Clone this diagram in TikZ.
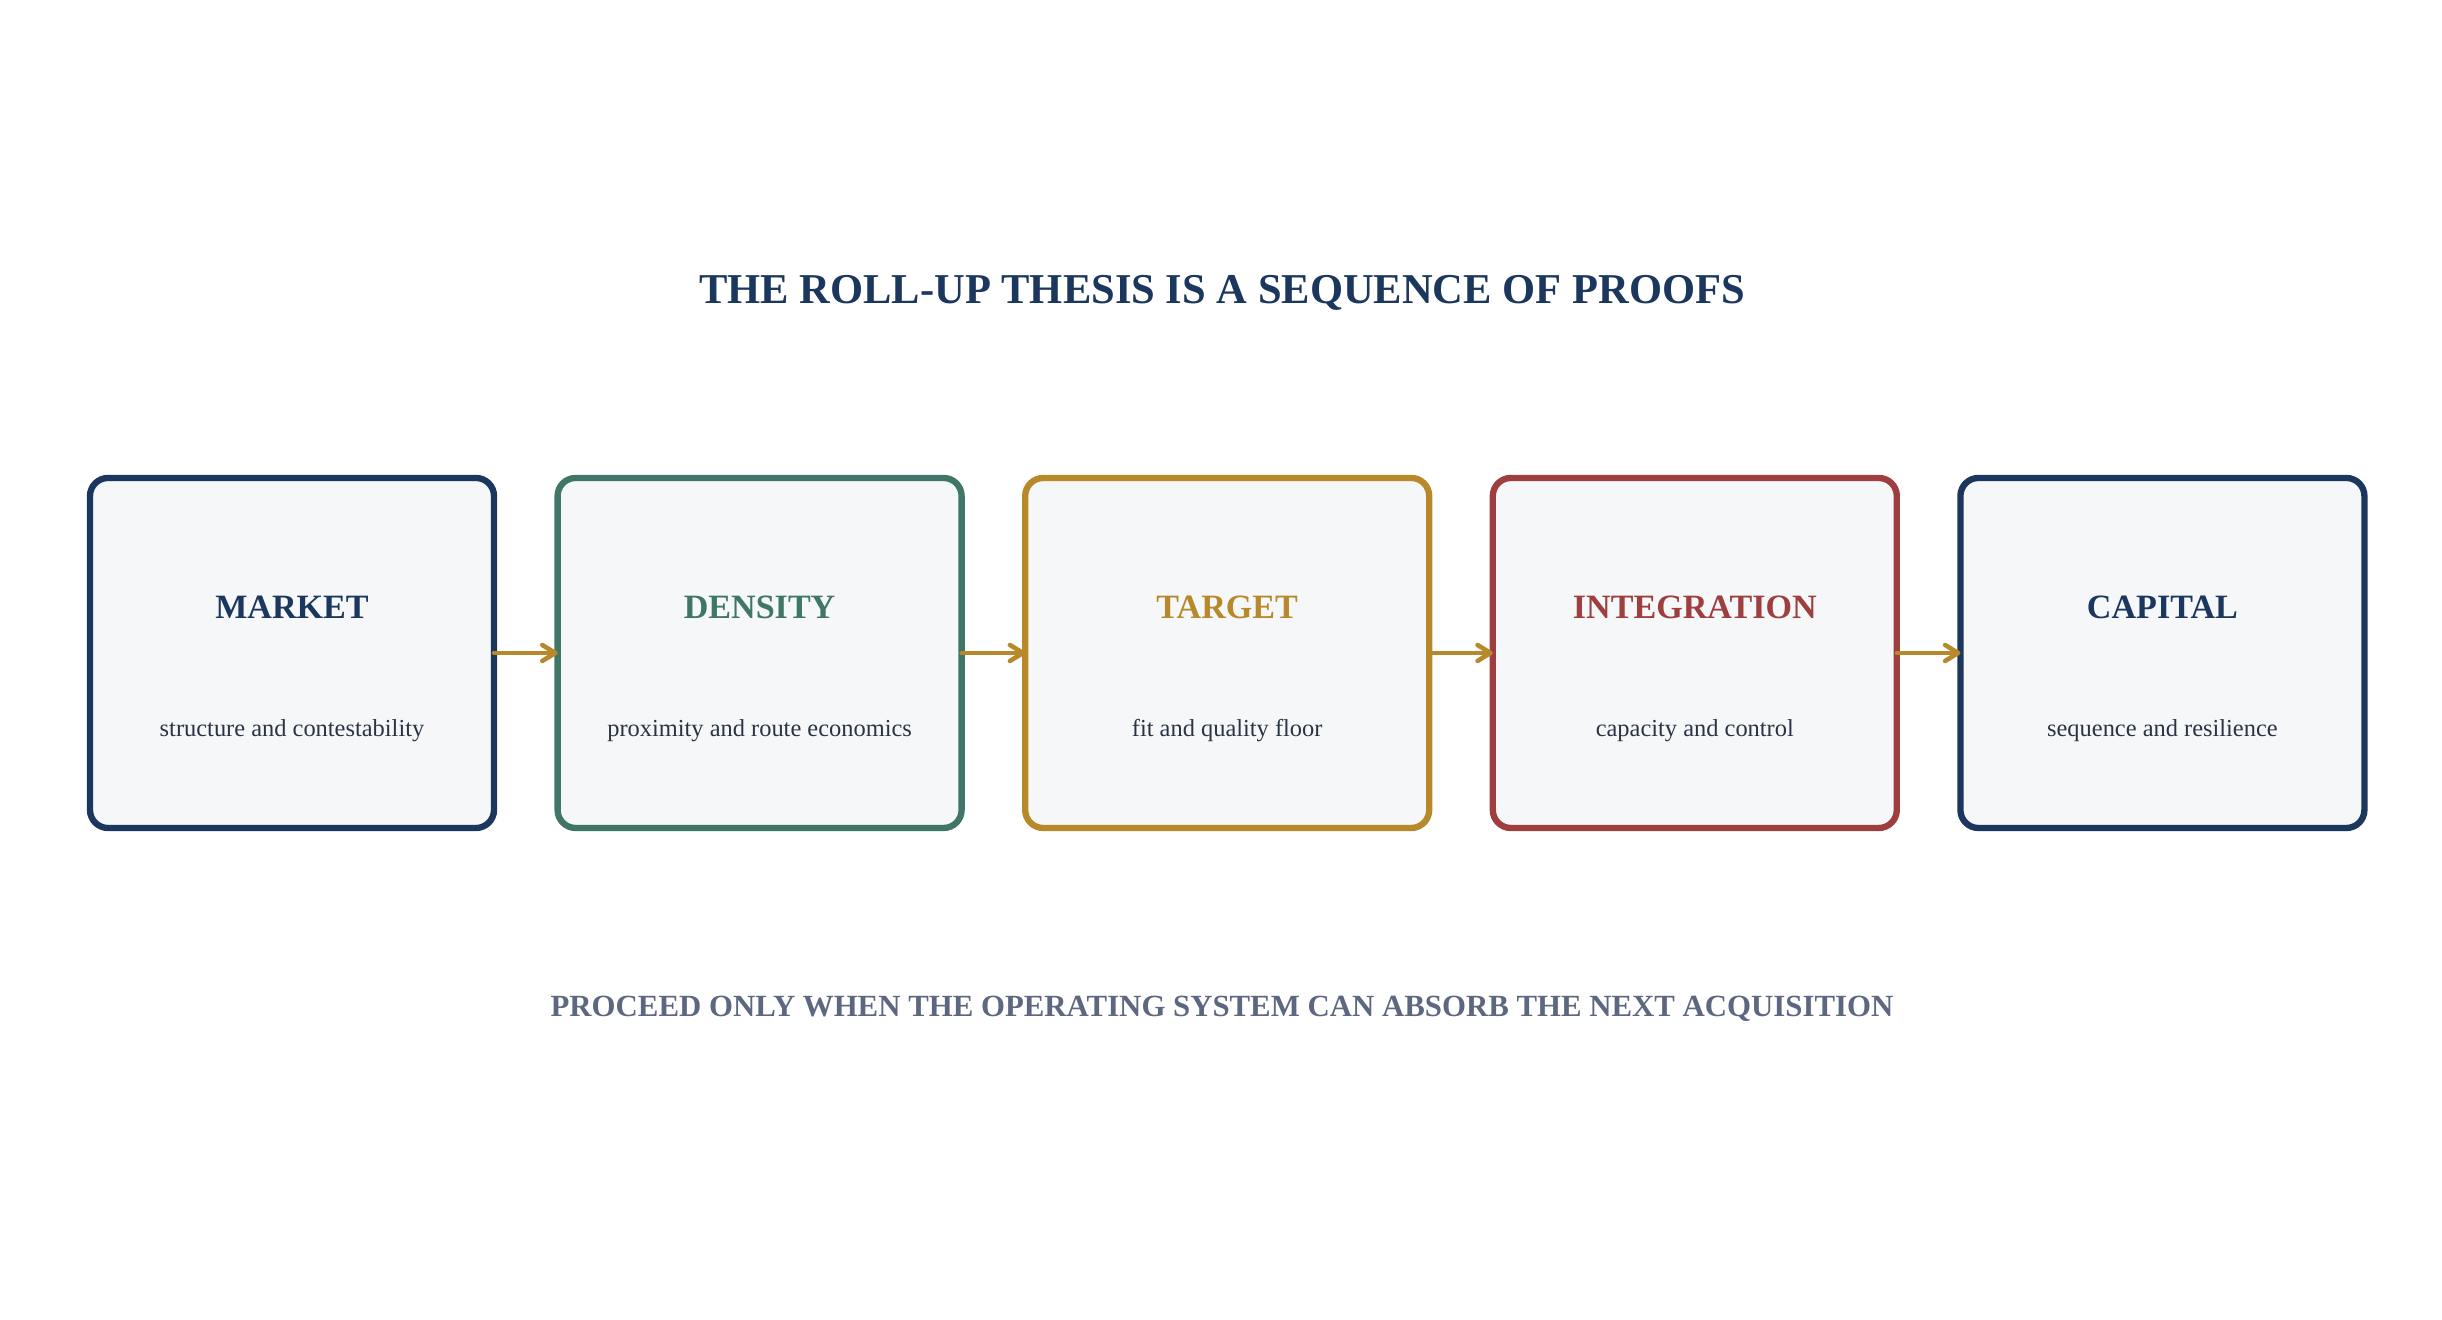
\documentclass[tikz,border=0pt]{standalone}
\usepackage{fontspec}
\setmainfont{Liberation Serif}
\usepackage{tikz}
\usetikzlibrary{arrows.meta}
\definecolor{navy}{HTML}{1C375E}
\definecolor{pine}{HTML}{3F7668}
\definecolor{ochre}{HTML}{B8892B}
\definecolor{brick}{HTML}{9E3E3E}
\definecolor{paper}{HTML}{F5F7F9}
\definecolor{ink}{HTML}{2B3445}
\definecolor{slate}{HTML}{5D6880}
\tikzstyle{proof} = [draw, fill=paper, rectangle, rounded corners=0.18cm, line width=1.8pt, minimum width=4.04cm, minimum height=3.5cm, outer sep=0pt]
\tikzstyle{head} = [anchor=base, inner sep=0pt, font={\fontsize{9.7}{12}\selectfont\bfseries}]
\tikzstyle{sub} = [anchor=base, inner sep=0pt, text=ink, font={\fontsize{6.95}{8}\selectfont}]
\tikzstyle{flow} = [draw=ochre, line width=1.3pt, line cap=round, -{Straight Barb[length=0.13cm,width=0.16cm,round]}]

\begin{document}
\begin{tikzpicture}
        \useasboundingbox (0,0) rectangle (24.42,13.2);
        \node[anchor=base, inner sep=0pt, text=navy, font={\fontsize{12.1}{14}\selectfont\bfseries}](title) at (12.22,10.16){THE ROLL-UP THESIS IS A SEQUENCE OF PROOFS};
        \node[proof,draw=navy](market) at (2.92,6.67){};
        \node[proof,draw=pine](density) at (7.596,6.67){};
        \node[proof,draw=ochre](target) at (12.272,6.67){};
        \node[proof,draw=brick](integration) at (16.948,6.67){};
        \node[proof,draw=navy](capital) at (21.624,6.67){};
        \node[head,text=navy](market-h) at (2.92,7.015){MARKET};
        \node[head,text=pine](density-h) at (7.596,7.015){DENSITY};
        \node[head,text=ochre](target-h) at (12.272,7.015){TARGET};
        \node[head,text=brick](integration-h) at (16.948,7.015){INTEGRATION};
        \node[head,text=navy](capital-h) at (21.624,7.015){CAPITAL};
        \node[sub](market-s) at (2.92,5.83){structure and contestability};
        \node[sub](density-s) at (7.596,5.83){proximity and route economics};
        \node[sub](target-s) at (12.272,5.83){fit and quality floor};
        \node[sub](integration-s) at (16.948,5.83){capacity and control};
        \node[sub](capital-s) at (21.624,5.83){sequence and resilience};
        \draw[flow](market.east)--(density.west);
        \draw[flow](density.east)--(target.west);
        \draw[flow](target.east)--(integration.west);
        \draw[flow](integration.east)--(capital.west);
        \node[anchor=base, inner sep=0pt, text=slate, font={\fontsize{8.77}{11}\selectfont\bfseries}](rule) at (12.22,3.03){PROCEED ONLY WHEN THE OPERATING SYSTEM CAN ABSORB THE NEXT ACQUISITION};
      \end{tikzpicture}
\end{document}
